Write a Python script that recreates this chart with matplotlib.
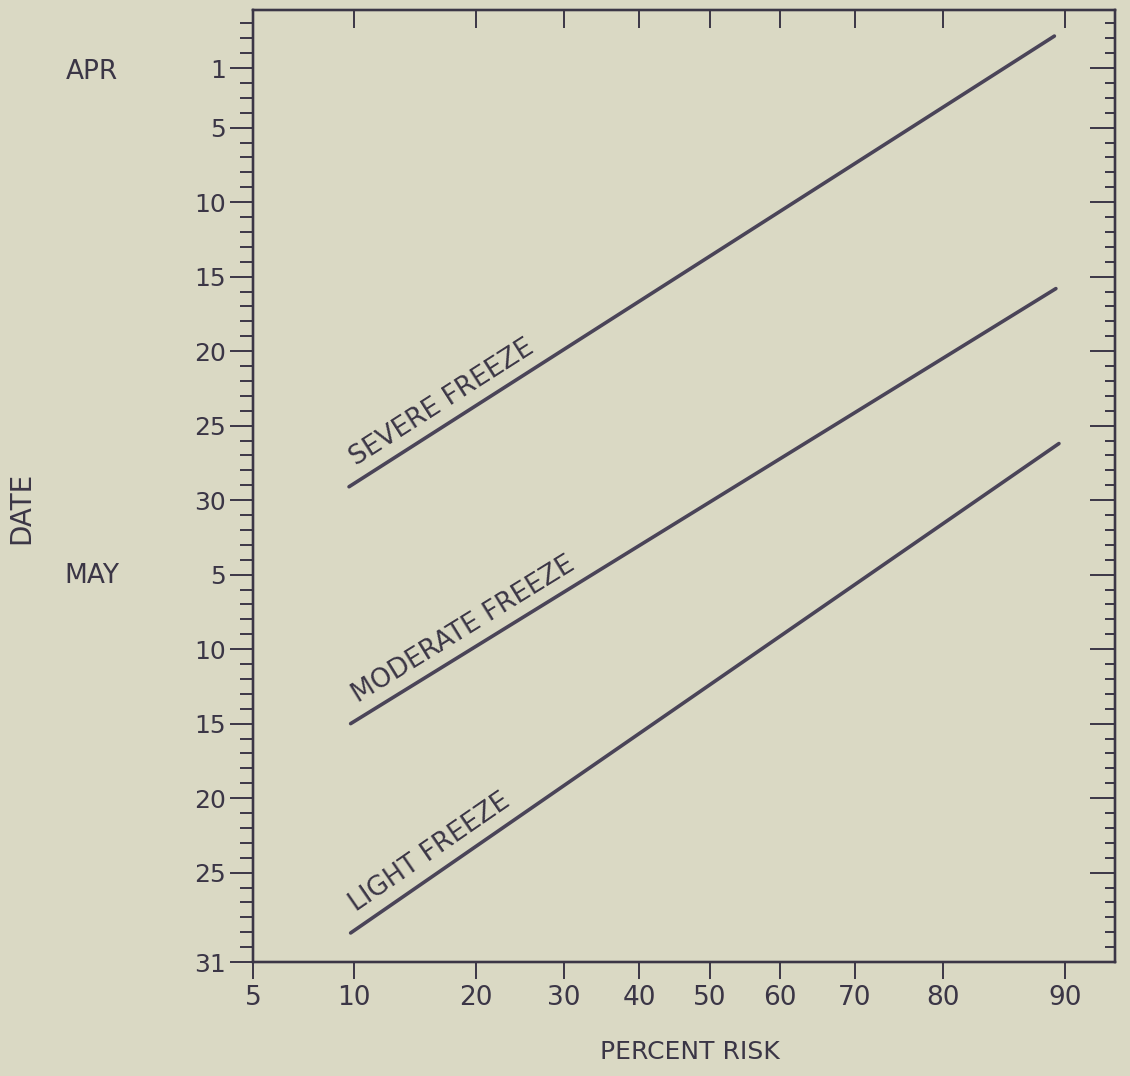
#!/usr/bin/env python3
"""
Freeze risk chart: date of last spring freeze vs percent risk
(normal-probability x axis, calendar days on y axis).
"""

import math
from statistics import NormalDist

import numpy as np
import matplotlib
matplotlib.use('Agg')
import matplotlib.pyplot as plt
from matplotlib.ticker import FixedLocator, NullLocator, NullFormatter

# --- data (y: day number, Apr 1 = 1, May 1 = 31) -------------------------
risk_ticks = [5, 10, 20, 30, 40, 50, 60, 70, 80, 90]
day_ticks = [1, 5, 10, 15, 20, 25, 30, 35, 40, 45, 50, 55, 61]
day_labels = ['1', '5', '10', '15', '20', '25', '30',
              '5', '10', '15', '20', '25', '31']
minor_days = list(range(-2, 61))

series_names = ['SEVERE FREEZE', 'MODERATE FREEZE', 'LIGHT FREEZE']
risk_ends = [[9.7, 89.3], [9.8, 89.4], [9.8, 89.6]]
day_ends = [[29.1, -1.15], [45.0, 15.8], [59.05, 26.2]]

BG = '#dad9c4'
INK = '#3b3646'
LINE = '#4a4458'

ND = NormalDist()
_fwd = np.vectorize(lambda p: ND.inv_cdf(min(max(p, 0.01), 99.99) / 100.0),
                    otypes=[float])
_inv = np.vectorize(lambda z: ND.cdf(z) * 100.0, otypes=[float])


def fwd(p):
    return _fwd(np.asarray(p, dtype=float))


def inv(z):
    return _inv(np.asarray(z, dtype=float))


plt.rcParams['font.family'] = ['DejaVu Sans']

fig = plt.figure(figsize=(11.3, 10.76), dpi=100, facecolor=BG)
ax = fig.add_axes([253 / 1130, 114 / 1076, 862 / 1130, 952 / 1076])
ax.set_facecolor(BG)

ax.set_xscale('function', functions=(fwd, inv))
ax.set_xlim(5, 92.8)
ax.set_ylim(61, -2.9)

ax.xaxis.set_major_locator(FixedLocator(risk_ticks))
ax.xaxis.set_minor_locator(NullLocator())
ax.set_xticklabels([str(t) for t in risk_ticks])
ax.yaxis.set_major_locator(FixedLocator(day_ticks))
ax.yaxis.set_minor_locator(FixedLocator(minor_days))
ax.set_yticklabels(day_labels)

ax.tick_params(axis='x', which='major', direction='out', length=12.5,
               width=1.4, pad=4, labelsize=19, colors=INK, top=False)
ax.tick_params(axis='y', which='major', direction='out', length=16.5,
               width=1.4, pad=3, labelsize=18, colors=INK, right=False)
ax.tick_params(axis='y', which='minor', direction='out', length=9.5,
               width=1.4, right=False, colors=INK)

# right-hand ticks point inward
axr = ax.twinx()
axr.set_ylim(ax.get_ylim())
axr.yaxis.set_major_locator(FixedLocator(day_ticks))
axr.yaxis.set_minor_locator(FixedLocator(minor_days))
axr.yaxis.set_major_formatter(NullFormatter())
axr.tick_params(axis='y', which='major', direction='in', length=18,
                width=1.4, colors=INK)
axr.tick_params(axis='y', which='minor', direction='in', length=7.5,
                width=1.4, colors=INK)

# top ticks point inward
axt = ax.twiny()
axt.set_xscale('function', functions=(fwd, inv))
axt.set_xlim(ax.get_xlim())
axt.xaxis.set_major_locator(FixedLocator(risk_ticks))
axt.xaxis.set_minor_locator(NullLocator())
axt.xaxis.set_major_formatter(NullFormatter())
axt.tick_params(axis='x', which='major', direction='in', length=13,
                width=1.4, colors=INK)

for a in (ax, axr, axt):
    for sp in a.spines.values():
        sp.set_linewidth(1.6)
        sp.set_color(INK)

for xs, ys in zip(risk_ends, day_ends):
    ax.plot(xs, ys, color=LINE, lw=2.6, solid_capstyle='round')

fig.canvas.draw()
for name, xs, ys in zip(series_names, risk_ends, day_ends):
    (x0, y0), (x1, y1) = ax.transData.transform([[xs[0], ys[0]],
                                                  [xs[1], ys[1]]])
    ang = math.atan2(y1 - y0, x1 - x0)
    off = 10.0    # points, perpendicular to the line
    along = 12.0  # points, along the line
    ax.annotate(name, xy=(xs[0], ys[0]),
                xytext=(-off * math.sin(ang) + along * math.cos(ang),
                        off * math.cos(ang) + along * math.sin(ang)),
                textcoords='offset points', rotation=math.degrees(ang),
                rotation_mode='anchor', ha='left', va='baseline',
                fontsize=19, color=INK)

fig.text(92 / 1130, 1 - 72 / 1076, 'APR', fontsize=19, color=INK,
         ha='center', va='center')
fig.text(92 / 1130, 1 - 576 / 1076, 'MAY', fontsize=19, color=INK,
         ha='center', va='center')
fig.text(21 / 1130, 1 - 508 / 1076, 'DATE', fontsize=20, color=INK,
         rotation=90, ha='center', va='center')
fig.text(690 / 1130, 1 - 1052 / 1076, 'PERCENT RISK', fontsize=18,
         color=INK, ha='center', va='center')

fig.savefig('out.png', dpi=100, facecolor=BG)
